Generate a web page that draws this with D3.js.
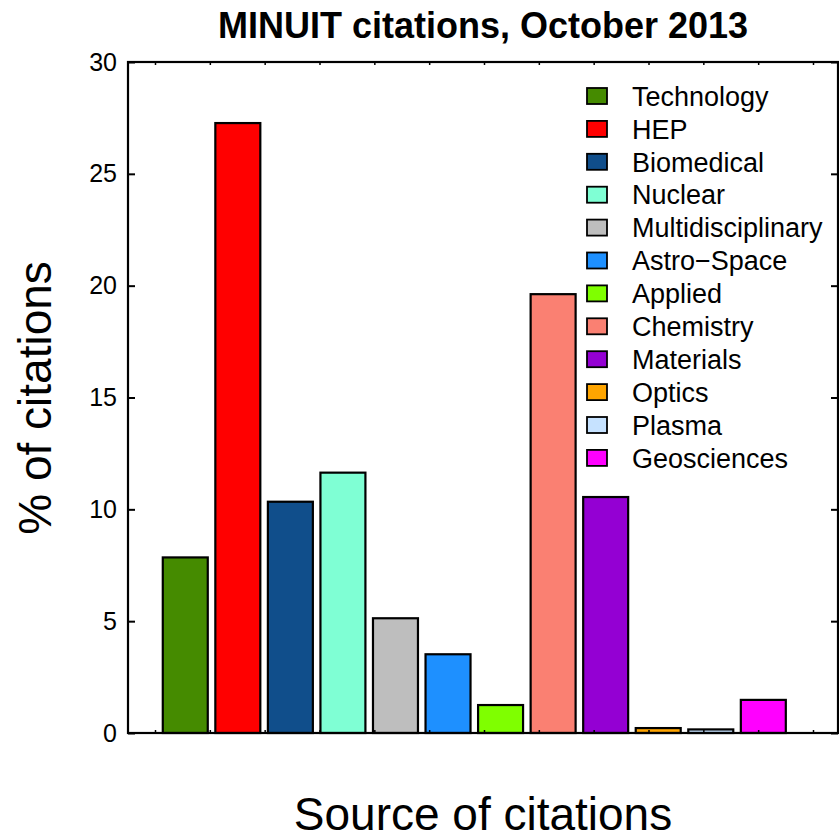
<!DOCTYPE html>
<html>
<head>
<meta charset="utf-8">
<script src="https://cdn.jsdelivr.net/npm/d3@7"></script>
<style>
  html, body { margin: 0; padding: 0; background: #fff; }
  svg { display: block; font-family: "Liberation Sans", Arial, Helvetica, sans-serif; }
</style>
</head>
<body>
<svg id="chart" width="839" height="840"></svg>
<script>
const categories = ["Technology", "HEP", "Biomedical", "Nuclear", "Multidisciplinary", "Astro\u2212Space",
  "Applied", "Chemistry", "Materials", "Optics", "Plasma", "Geosciences"];
const values = [7.85, 27.27, 10.34, 11.64, 5.13, 3.52, 1.25, 19.62, 10.55, 0.22, 0.16, 1.48];
const colors = ["#458B00", "#FF0000", "#104E8B", "#7FFFD4", "#BEBEBE", "#1E90FF",
  "#7FFF00", "#FA8072", "#9400D3", "#FFA500", "#C6E2FF", "#FF00FF"];
const yTicks = [0, 5, 10, 15, 20, 25, 30];
const title = "MINUIT citations, October 2013";
const xLabel = "Source of citations";
const yLabel = "% of citations";

(function () {
const svg = d3.select("#chart");
const pLeft = 128, pRight = 838, pTop = 62, pBottom = 733;

const y = d3.scaleLinear().domain([0, 30]).range([pBottom, pTop]);
const x = d3.scaleBand().domain(categories).range([159, 789.6])
  .paddingInner(0.144).paddingOuter(0.072);

// bars
svg.append("g").selectAll("rect").data(categories).join("rect")
  .attr("x", d => x(d))
  .attr("y", (d, i) => y(values[i]))
  .attr("width", x.bandwidth())
  .attr("height", (d, i) => y(0) - y(values[i]))
  .attr("fill", (d, i) => colors[i])
  .attr("stroke", "#000")
  .attr("stroke-width", 2.2);

// left axis (inward ticks)
const yAxis = d3.axisLeft(y).tickValues(yTicks).tickSizeInner(-7).tickSizeOuter(0).tickPadding(11);
const gy = svg.append("g").attr("transform", `translate(${pLeft},0)`).call(yAxis);
gy.attr("font-size", null).attr("font-family", null);
gy.select(".domain").remove();
gy.selectAll("line").attr("stroke", "#000").attr("stroke-width", 2);
gy.selectAll("text").attr("font-size", 25).attr("fill", "#000");

// right axis ticks inward
const yAxisR = d3.axisRight(y).tickValues(yTicks).tickSizeInner(-7).tickSizeOuter(0).tickFormat("");
const gyr = svg.append("g").attr("transform", `translate(${pRight},0)`).call(yAxisR);
gyr.select(".domain").remove();
gyr.selectAll("line").attr("stroke", "#000").attr("stroke-width", 2);

// small top/bottom ticks
const tickScale = d3.scaleLinear().domain([0, 12]).range([155, 813]);
const xt = d3.range(13);
const gt = svg.append("g").attr("transform", `translate(0,${pTop})`)
  .call(d3.axisBottom(tickScale).tickValues(xt).tickSize(3).tickFormat(""));
gt.select(".domain").remove();
gt.selectAll("line").attr("stroke", "#000").attr("stroke-width", 1.5);
const gb = svg.append("g").attr("transform", `translate(0,${pBottom})`)
  .call(d3.axisTop(tickScale).tickValues(xt).tickSize(3).tickFormat(""));
gb.select(".domain").remove();
gb.selectAll("line").attr("stroke", "#000").attr("stroke-width", 1.5);

// frame
svg.append("rect").attr("x", pLeft).attr("y", pTop).attr("width", pRight - pLeft).attr("height", pBottom - pTop)
  .attr("fill", "none").attr("stroke", "#000").attr("stroke-width", 2.2);

// legend
const lg = svg.append("g");
const rowH = 32.9, ly0 = 96;
categories.forEach((c, i) => {
  const cy = ly0 + i * rowH;
  lg.append("rect").attr("x", 587).attr("y", cy - 8).attr("width", 20).attr("height", 16)
    .attr("fill", colors[i]).attr("stroke", "#000").attr("stroke-width", 1.8);
  lg.append("text").attr("x", 632).attr("y", cy).attr("dy", "0.36em")
    .attr("font-size", 27).attr("fill", "#000").text(c);
});

// title
svg.append("text").attr("x", 483).attr("y", 38).attr("text-anchor", "middle")
  .attr("font-size", 36).attr("font-weight", "bold").text(title);

// axis labels
svg.append("text").attr("x", 483).attr("y", 830).attr("text-anchor", "middle")
  .attr("font-size", 46).text(xLabel);
svg.append("text").attr("transform", "translate(51,398) rotate(-90)").attr("text-anchor", "middle")
  .attr("font-size", 46).text(yLabel);
})();
</script>
</body>
</html>
